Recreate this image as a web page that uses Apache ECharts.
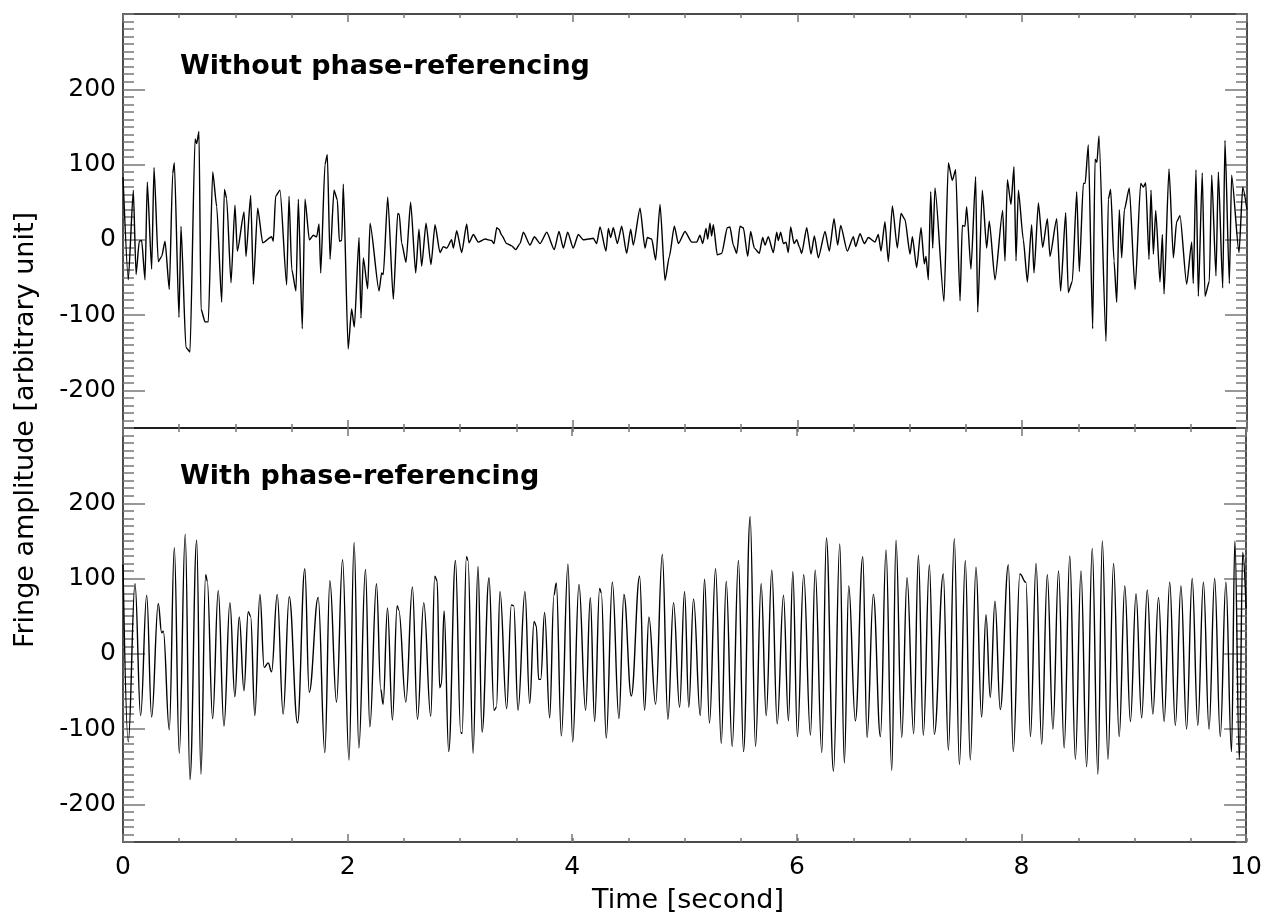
<!DOCTYPE html>
<html>
<head>
<meta charset="utf-8">
<script src="https://cdn.jsdelivr.net/npm/echarts@6/dist/echarts.min.js"></script>
<style>
  html, body { margin: 0; padding: 0; background: #fff; }
  #chart { width: 1265px; height: 916px; }
</style>
</head>
<body>
<div id="chart"></div>
<script>
// top panel: without phase-referencing (time in s, amplitude)
const topT = [0.00,0.047,0.092,0.116,0.145,0.166,0.196,0.216,0.255,0.276,0.314,0.344,0.374,0.412,0.442,0.457,0.498,0.516,0.560,0.596,
  0.641,0.656,0.676,0.694,0.730,0.759,0.798,0.834,0.878,0.902,0.922,0.961,0.996,1.017,1.077,1.094,1.136,1.160,1.198,1.243,
  1.323,1.337,1.358,1.397,1.456,1.477,1.501,1.539,1.560,1.595,1.619,1.658,1.693,1.723,1.744,1.759,1.797,1.818,1.842,1.877,
  1.907,1.925,1.946,1.960,2.003,2.034,2.058,2.100,2.117,2.138,2.177,2.198,2.278,2.301,2.316,2.355,2.405,2.444,2.458,2.479,
  2.518,2.559,2.604,2.633,2.657,2.696,2.740,2.776,2.820,2.850,2.880,2.924,2.939,2.969,3.013,3.058,3.078,3.117,3.161,3.221,
  3.280,3.301,3.325,3.345,3.369,3.414,3.458,3.494,3.532,3.562,3.621,3.660,3.710,3.770,3.837,3.879,3.918,3.956,4.006,4.051,
  4.095,4.140,4.184,4.214,4.244,4.297,4.318,4.339,4.362,4.398,4.437,4.481,4.517,4.540,4.600,4.644,4.665,4.704,4.739,4.778,
  4.822,4.861,4.905,4.941,5.000,5.060,5.104,5.133,5.157,5.187,5.202,5.222,5.237,5.252,5.287,5.327,5.376,5.400,5.430,5.460,
  5.489,5.519,5.558,5.584,5.617,5.661,5.691,5.712,5.741,5.786,5.816,5.830,5.851,5.875,5.899,5.919,5.940,5.970,5.994,6.017,
  6.038,6.083,6.121,6.151,6.186,6.246,6.284,6.326,6.358,6.385,6.444,6.498,6.518,6.557,6.596,6.631,6.690,6.720,6.744,6.779,
  6.809,6.845,6.889,6.922,6.957,7.002,7.023,7.061,7.100,7.129,7.144,7.165,7.186,7.204,7.224,7.304,7.343,7.378,7.408,7.447,
  7.467,7.491,7.506,7.544,7.586,7.604,7.645,7.684,7.707,7.758,7.826,7.847,7.868,7.900,7.927,7.945,7.966,8.010,8.046,8.084,
  8.105,8.144,8.182,8.224,8.247,8.307,8.342,8.387,8.410,8.446,8.485,8.508,8.544,8.560,8.588,8.627,8.648,8.665,8.683,8.746,
  8.766,8.787,8.817,8.841,8.864,8.885,8.909,8.953,9.004,9.054,9.078,9.099,9.128,9.146,9.167,9.188,9.226,9.247,9.262,9.306,
  9.345,9.374,9.404,9.463,9.508,9.522,9.546,9.567,9.602,9.626,9.665,9.686,9.724,9.745,9.784,9.804,9.843,9.863,9.929,9.962,
  10.0];
const topV = [83,-53,66,-46,-2,-1,-53,77,-39,96,-29,-22,-2,-66,88,102,-103,18,-143,-149,
  134,128,144,-92,-109,-109,90,44,-83,67,55,-57,46,-15,37,-22,59,-59,42,-4,
  4,-2,58,66,-60,58,-39,-68,54,-118,54,0,6,4,21,-44,100,113,-26,66,
  53,-2,-1,74,-145,-92,-116,3,-104,-24,-65,22,-68,-44,-46,57,-79,35,34,-4,
  -30,50,-44,14,-35,22,-33,20,-17,-9,-11,0,-11,12,-17,21,-4,7,-3,1,
  -1,-5,16,14,6,-5,-8,-13,-5,10,-7,4,-5,10,-13,11,-11,10,-11,7,
  0,1,2,-5,17,-15,15,3,16,-5,18,-18,14,-7,42,-11,3,1,-27,47,
  -54,-22,18,-5,11,-3,-3,6,-5,15,1,22,5,20,-20,-18,16,17,-7,-18,
  18,16,-22,11,-11,-18,3,-7,4,-17,10,-1,10,-5,-3,-17,17,-5,0,-9,
  -18,16,-19,5,-24,11,-15,28,-7,19,-15,4,-9,8,-5,3,-3,7,-15,24,
  -29,45,-11,35,27,-19,4,-37,16,-32,-22,-53,64,-11,69,-82,102,79,93,-81,
  19,18,44,-39,84,-96,66,-11,25,-53,39,-28,80,47,97,-28,66,0,-56,20,
  -44,49,-10,28,-22,28,-68,36,-70,-55,64,-42,75,75,126,-118,107,103,138,-135,
  54,67,-28,-83,40,-24,40,69,-66,75,70,76,-26,66,-19,39,-56,7,-72,94,
  -24,24,32,-59,-3,-58,93,-75,89,-75,-55,86,-48,90,-64,132,-58,86,-17,70,
  40];

// bottom panel: with phase-referencing
const botT = [0.00,0.047,0.107,0.157,0.211,0.255,0.314,0.344,0.359,0.412,0.457,0.501,0.554,0.596,0.656,0.694,0.736,0.750,0.798,0.848,
  0.899,0.952,0.996,1.035,1.077,1.115,1.136,1.174,1.219,1.257,1.293,1.323,1.373,1.426,1.480,1.554,1.619,1.658,1.738,1.797,
  1.842,1.901,1.955,2.012,2.058,2.100,2.159,2.198,2.257,2.295,2.316,2.355,2.399,2.441,2.456,2.518,2.577,2.622,2.678,2.740,
  2.776,2.797,2.820,2.835,2.859,2.900,2.960,3.007,3.019,3.058,3.072,3.117,3.161,3.197,3.259,3.304,3.325,3.357,3.416,3.458,
  3.479,3.517,3.579,3.621,3.660,3.680,3.701,3.719,3.754,3.799,3.837,3.858,3.903,3.962,4.004,4.060,4.119,4.161,4.199,4.244,
  4.259,4.303,4.357,4.416,4.460,4.526,4.600,4.644,4.683,4.742,4.802,4.852,4.902,4.956,5.000,5.038,5.080,5.140,5.178,5.222,
  5.276,5.327,5.371,5.424,5.480,5.525,5.584,5.632,5.682,5.727,5.777,5.825,5.881,5.925,5.964,6.005,6.061,6.121,6.163,6.222,
  6.263,6.326,6.382,6.423,6.462,6.521,6.587,6.625,6.681,6.744,6.794,6.845,6.883,6.934,6.981,7.040,7.082,7.126,7.180,7.224,
  7.304,7.349,7.402,7.447,7.500,7.544,7.595,7.645,7.684,7.722,7.764,7.811,7.883,7.927,7.986,8.04,8.08,8.13,8.18,8.23,
  8.28,8.33,8.38,8.43,8.48,8.53,8.58,8.63,8.68,8.72,8.77,8.82,8.87,8.92,8.97,9.02,9.07,9.12,9.17,9.22,
  9.27,9.32,9.37,9.42,9.47,9.52,9.57,9.62,9.67,9.72,9.77,9.82,9.87,9.90,9.94,9.97,10.0];
const botV = [119,-117,93,-82,78,-84,67,28,30,-101,141,-132,159,-167,151,-160,105,97,-86,84,
  -96,68,-57,49,-49,56,50,-82,79,-18,-12,-24,79,-80,76,-92,113,-51,75,-131,
  97,-64,125,-141,148,-125,112,-97,93,-47,-67,61,-88,64,58,-64,89,-87,68,-83,
  103,97,-45,-40,57,-130,124,-104,-106,129,124,-132,116,-104,101,-75,-71,83,-73,65,
  64,-75,83,-66,43,37,-34,-34,55,-85,78,94,-109,119,-117,92,-75,75,-90,87,
  81,-112,95,-86,79,-56,103,-75,49,-67,132,-87,68,-71,83,-71,73,-82,99,-92,
  113,-119,96,-123,124,-130,182,-123,93,-82,111,-93,78,-89,109,-110,105,-108,111,-131,
  154,-156,146,-145,90,-89,129,-111,79,-110,138,-155,151,-111,101,-106,131,-108,118,-107,
  106,-128,153,-147,124,-141,115,-84,52,-58,70,-74,118,-130,106,95,-110,120,-120,105,
  -100,110,-125,130,-140,110,-150,140,-160,150,-140,120,-110,90,-90,80,-85,85,-80,75,
  -90,95,-95,90,-100,100,-95,95,-100,100,-110,95,-130,150,-140,135,60];

const xMajorStep = 2;
const xMinorStep = 0.5;
const yMinorStep = 10;
const yTickLabels = [-200, -100, 0, 100, 200];
const panelTitles = ['Without phase-referencing', 'With phase-referencing'];

const FONT = 'DejaVu Sans';
const myChart = echarts.init(document.getElementById('chart'));

const lineCol = '#111';
const tickCol = '#777';

function xAx(grid, pos, step, len, showLine, showLabel) {
  return {
    type: 'value', gridIndex: grid, position: pos, min: 0, max: 10, interval: step,
    axisLine: { show: showLine, onZero: false, lineStyle: { color: lineCol, width: 1.5 } },
    axisTick: { show: true, inside: true, length: len, lineStyle: { color: tickCol, width: 1.5 } },
    axisLabel: { show: showLabel, margin: 13, fontSize: 25, fontFamily: FONT, color: '#000' },
    splitLine: { show: false }
  };
}
function yMajor(grid, pos, showLabel) {
  return {
    type: 'value', gridIndex: grid, position: pos, min: -250, max: 300,
    axisLine: { show: true, onZero: false, lineStyle: { color: lineCol, width: 1.5 } },
    axisTick: { show: true, inside: true, length: 22, customValues: yTickLabels, lineStyle: { color: tickCol, width: 1.5 } },
    axisLabel: { show: showLabel, customValues: yTickLabels, margin: 7, fontSize: 25, fontFamily: FONT, color: '#000' },
    splitLine: { show: false }
  };
}
function yMinor(grid, pos) {
  return {
    type: 'value', gridIndex: grid, position: pos, min: -250, max: 300, interval: yMinorStep,
    axisLine: { show: false, onZero: false },
    axisTick: { show: true, inside: true, length: 11, lineStyle: { color: tickCol, width: 1.5 } },
    axisLabel: { show: false },
    splitLine: { show: false }
  };
}

// grids 0/1: top panel (major / minor ticks), grids 2/3: bottom panel
const panels = [{ top: 14 }, { top: 428 }];
const grids = [];
const xAxes = [];
const yAxes = [];
panels.forEach((p, k) => {
  const gMaj = grids.length;
  grids.push({ left: 123, right: 18, top: p.top, height: 414 });
  const gMin = grids.length;
  grids.push({ left: 123, right: 18, top: p.top, height: 414 });
  xAxes.push(xAx(gMaj, 'bottom', xMajorStep, 8, true, k === 1));
  xAxes.push(xAx(gMaj, 'top', xMajorStep, 8, true, false));
  xAxes.push(xAx(gMin, 'bottom', xMinorStep, 4, false, false));
  xAxes.push(xAx(gMin, 'top', xMinorStep, 4, false, false));
  yAxes.push(yMajor(gMaj, 'left', true));
  yAxes.push(yMajor(gMaj, 'right', false));
  yAxes.push(yMinor(gMin, 'left'));
  yAxes.push(yMinor(gMin, 'right'));
});

const option = {
  animation: false,
  backgroundColor: '#fff',
  grid: grids,
  xAxis: xAxes,
  yAxis: yAxes,
  graphic: [
    { type: 'text', x: 180, y: 67, style: { text: panelTitles[0], font: 'bold 27px "DejaVu Sans"', fill: '#000', textVerticalAlign: 'middle' } },
    { type: 'text', x: 180, y: 477, style: { text: panelTitles[1], font: 'bold 27px "DejaVu Sans"', fill: '#000', textVerticalAlign: 'middle' } },
    { type: 'text', x: 26, y: 430, rotation: Math.PI / 2, style: { text: 'Fringe amplitude [arbitrary unit]', font: '27px "DejaVu Sans"', fill: '#000', textAlign: 'center', textVerticalAlign: 'middle' } },
    { type: 'text', x: 688, y: 901, style: { text: 'Time [second]', font: '27px "DejaVu Sans"', fill: '#000', textAlign: 'center', textVerticalAlign: 'middle' } }
  ],
  series: [
    {
      type: 'line', xAxisIndex: 0, yAxisIndex: 0, showSymbol: false, smooth: 0.2, smoothMonotone: 'x',
      lineStyle: { color: '#000', width: 1.4 },
      data: topT.map((t, i) => [t, topV[i]])
    },
    {
      type: 'line', xAxisIndex: 4, yAxisIndex: 4, showSymbol: false, smooth: 0.4, smoothMonotone: 'x',
      lineStyle: { color: '#000', width: 1.4 },
      data: botT.map((t, i) => [t, botV[i]])
    }
  ]
};
option && myChart.setOption(option);
</script>
</body>
</html>
